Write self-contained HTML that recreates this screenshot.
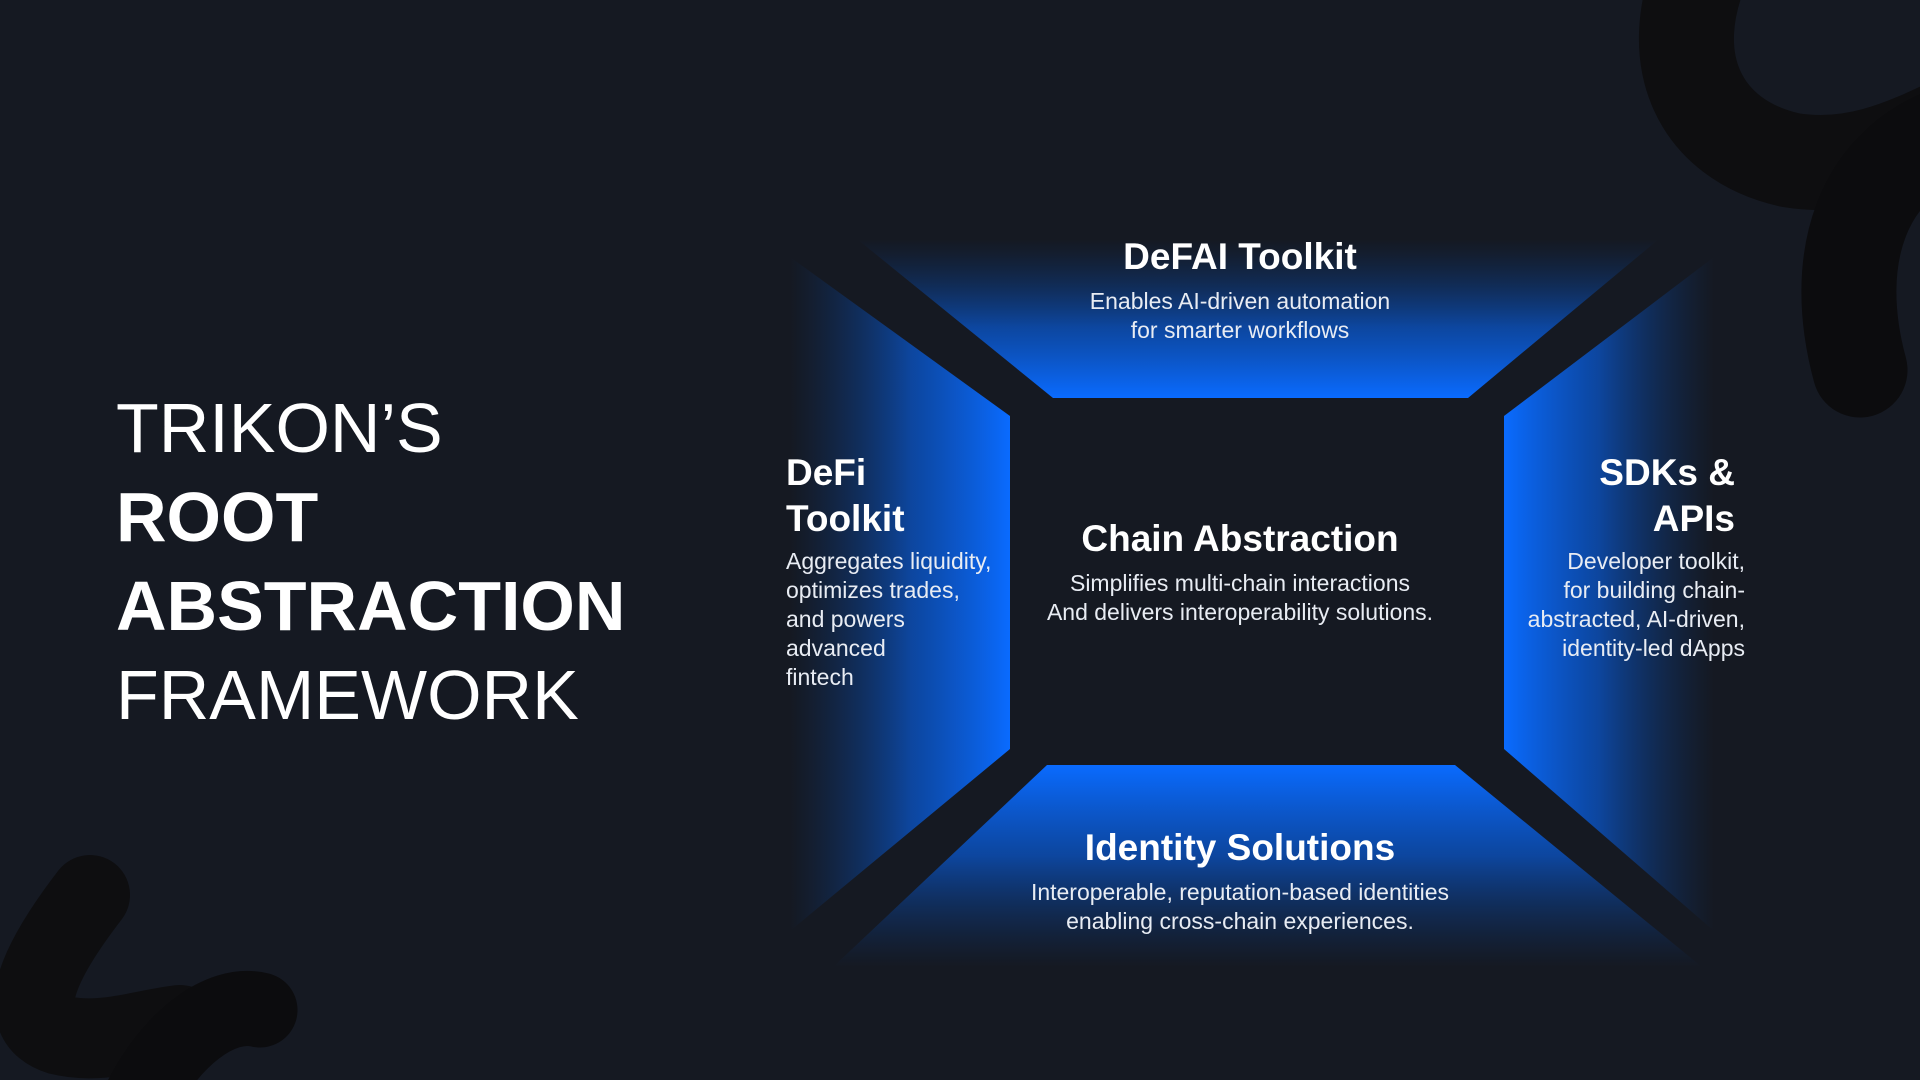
<!DOCTYPE html>
<html><head><meta charset="utf-8"><style>
html,body{margin:0;padding:0;background:#151922;}
body{width:1920px;height:1080px;position:relative;overflow:hidden;font-family:"Liberation Sans",sans-serif;color:#fff;}
.t{position:absolute;white-space:nowrap;}
.h{font-size:37px;font-weight:bold;letter-spacing:0;}
.b{font-size:23px;line-height:29px;color:#e8ecf3;}
.c{text-align:center;transform:translateX(-50%);}
.title{position:absolute;left:116px;top:384px;font-size:70px;line-height:89px;letter-spacing:0;}
</style></head><body>
<svg width="1920" height="1080" style="position:absolute;left:0;top:0">
<defs>
<linearGradient id="gt" x1="0" y1="1" x2="0" y2="0"><stop offset="0" stop-color="#0a6bff"/><stop offset="0.45" stop-color="#0a55c8" stop-opacity="0.75"/><stop offset="1" stop-color="#0a3a80" stop-opacity="0"/></linearGradient>
<linearGradient id="gb" x1="0" y1="0" x2="0" y2="1"><stop offset="0" stop-color="#0a6bff"/><stop offset="0.45" stop-color="#0a55c8" stop-opacity="0.75"/><stop offset="1" stop-color="#0a3a80" stop-opacity="0"/></linearGradient>
<linearGradient id="gl" x1="1" y1="0" x2="0" y2="0"><stop offset="0" stop-color="#0a6bff"/><stop offset="0.45" stop-color="#0a55c8" stop-opacity="0.75"/><stop offset="1" stop-color="#0a3a80" stop-opacity="0"/></linearGradient>
<linearGradient id="gr" x1="0" y1="0" x2="1" y2="0"><stop offset="0" stop-color="#0a6bff"/><stop offset="0.45" stop-color="#0a55c8" stop-opacity="0.75"/><stop offset="1" stop-color="#0a3a80" stop-opacity="0"/></linearGradient>
</defs>
<polygon points="857,239 1659,239 1468,398 1053,398" fill="url(#gt)"/>
<polygon points="1047,765 1455,765 1702,967 833,967" fill="url(#gb)"/>
<polygon points="790,257 1010,416 1010,749 790,931" fill="url(#gl)"/>
<polygon points="1714,257 1504,416 1504,749 1714,931" fill="url(#gr)"/>
<rect x="1010" y="398" width="494" height="367" fill="#151922"/>
<g fill="none" stroke-linecap="round">
<path d="M1705,-40 C1660,60 1700,140 1790,160 C1850,170 1900,150 1960,120" stroke="#0e0e10" stroke-width="95"/>
<path d="M1960,130 C1860,160 1830,260 1860,370" stroke="#0c0c0e" stroke-width="95"/>
<path d="M90,895 C40,960 10,1020 60,1035 C100,1045 140,1030 180,1025" stroke="#0e0e10" stroke-width="80"/>
<path d="M140,1100 C170,1040 220,1000 260,1010" stroke="#0c0c0e" stroke-width="75"/>
</g>
</svg>
<div class="title">TRIKON’S<br><b>ROOT</b><br><b>ABSTRACTION</b><br>FRAMEWORK</div>

<div class="t h c" style="left:1240px;top:236px">DeFAI Toolkit</div>
<div class="t b c" style="left:1240px;top:287px;text-align:center">Enables AI-driven automation<br>for smarter workflows</div>

<div class="t h c" style="left:1240px;top:518px">Chain Abstraction</div>
<div class="t b c" style="left:1240px;top:569px;text-align:center">Simplifies multi-chain interactions<br>And delivers interoperability solutions.</div>

<div class="t h c" style="left:1240px;top:827px">Identity Solutions</div>
<div class="t b c" style="left:1240px;top:878px;text-align:center">Interoperable, reputation-based identities<br>enabling cross-chain experiences.</div>

<div class="t h" style="left:786px;top:450px;line-height:46px">DeFi<br>Toolkit</div>
<div class="t b" style="left:786px;top:547px">Aggregates liquidity,<br>optimizes trades,<br>and powers<br>advanced<br>fintech</div>

<div class="t h" style="right:185px;top:450px;line-height:46px;text-align:right">SDKs &amp;<br>APIs</div>
<div class="t b" style="right:175px;top:547px;text-align:right">Developer toolkit,<br>for building chain-<br>abstracted, AI-driven,<br>identity-led dApps</div>
</body></html>
